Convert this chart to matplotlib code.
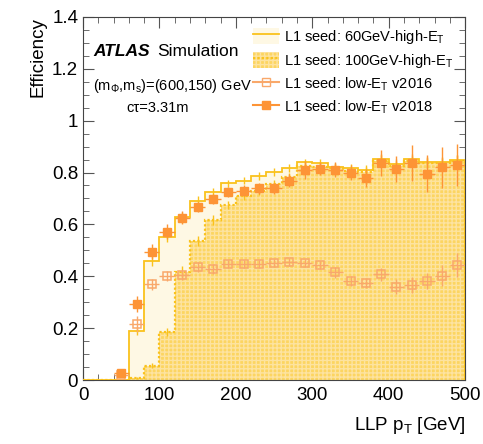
import matplotlib
matplotlib.use("Agg")
import matplotlib.pyplot as plt
import numpy as np
from matplotlib.patches import Patch
from matplotlib.lines import Line2D

plt.rcParams['font.family'] = ['Liberation Sans', 'DejaVu Sans']
plt.rcParams['mathtext.fontset'] = 'custom'
plt.rcParams['mathtext.rm'] = 'Liberation Sans'
plt.rcParams['mathtext.it'] = 'Liberation Sans:italic'

# binning: 25 bins of 20 GeV
edges = np.arange(0, 520, 20)
centers = edges[:-1] + 10

# L1 seed: 60GeV-high-ET (solid histogram)
eff_60 = [0.0, 0.0, 0.0, 0.189, 0.460, 0.553, 0.627, 0.692, 0.726, 0.758,
          0.769, 0.788, 0.801, 0.818, 0.839, 0.836, 0.823, 0.816, 0.810, 0.852,
          0.833, 0.852, 0.839, 0.839, 0.848]
err_60 = [0.0, 0.0, 0.0, 0.015, 0.02, 0.02, 0.02, 0.018, 0.015, 0.015,
          0.015, 0.015, 0.015, 0.015, 0.015, 0.015, 0.015, 0.015, 0.02, 0.02,
          0.02, 0.02, 0.02, 0.02, 0.02]

# L1 seed: 100GeV-high-ET (dotted histogram)
eff_100 = [0.0, 0.0, 0.0, 0.008, 0.055, 0.184, 0.418, 0.536, 0.617, 0.674,
           0.711, 0.730, 0.755, 0.782, 0.825, 0.822, 0.816, 0.807, 0.801, 0.846,
           0.825, 0.843, 0.836, 0.836, 0.846]
err_100 = [0.0, 0.0, 0.0, 0.005, 0.01, 0.015, 0.02, 0.02, 0.018, 0.015,
           0.015, 0.015, 0.015, 0.015, 0.015, 0.015, 0.015, 0.015, 0.02, 0.02,
           0.02, 0.02, 0.02, 0.02, 0.02]

# L1 seed: low-ET v2016 (open squares)
eff_v2016 = [np.nan, np.nan, 0.02, 0.216, 0.369, 0.401, 0.405, 0.435, 0.427, 0.446,
             0.446, 0.446, 0.450, 0.454, 0.450, 0.443, 0.415, 0.382, 0.373, 0.408,
             0.360, 0.366, 0.382, 0.402, 0.443]
err_v2016 = [np.nan, np.nan, 0.01, 0.03, 0.02, 0.02, 0.02, 0.02, 0.02, 0.015,
             0.015, 0.015, 0.015, 0.015, 0.015, 0.015, 0.02, 0.02, 0.02, 0.025,
             0.03, 0.03, 0.03, 0.04, 0.045]

# L1 seed: low-ET v2018 (filled squares)
eff_v2018 = [np.nan, np.nan, 0.026, 0.293, 0.495, 0.572, 0.626, 0.668, 0.697, 0.724,
             0.730, 0.739, 0.739, 0.769, 0.810, 0.814, 0.811, 0.800, 0.780, 0.836,
             0.814, 0.836, 0.796, 0.820, 0.829]
err_v2018 = [np.nan, np.nan, 0.015, 0.03, 0.03, 0.03, 0.025, 0.02, 0.02, 0.02,
             0.02, 0.02, 0.02, 0.025, 0.035, 0.025, 0.03, 0.03, 0.035, 0.05,
             0.05, 0.07, 0.07, 0.08, 0.08]

gold = '#fac21c'
cream = '#fef8e4'
yellow = '#fcd561'
orange = '#fd9436'
light_orange = '#f9a86a'

fig = plt.figure(figsize=(4.83, 4.44), dpi=100)
ax = fig.add_axes([0.172, 0.144, 0.791, 0.818])

# 60 GeV histogram: light fill with solid line
ax.stairs(eff_60, edges, fill=True, color=cream, zorder=1)
ax.stairs(eff_60, edges, color=gold, lw=1.3, zorder=4)
ax.errorbar(centers, eff_60, yerr=err_60, fmt='none', ecolor=gold, elinewidth=1, zorder=4)

# 100 GeV histogram: dense yellow with grid pattern and dotted line
ax.stairs(eff_100, edges, fill=True, facecolor=yellow, edgecolor='#fde3a0',
          hatch='++++', lw=0, zorder=2)
ax.stairs(eff_100, edges, color=gold, lw=1.6, ls=(0, (1, 1)), zorder=3)
ax.errorbar(centers, eff_100, yerr=err_100, fmt='none', ecolor=gold, elinewidth=1, zorder=3)

ax.errorbar(centers, eff_v2016, xerr=10, yerr=err_v2016, fmt='s', ms=6,
            mfc='none', mec=light_orange, mew=1.1, ecolor=light_orange, elinewidth=1, zorder=5)
ax.errorbar(centers, eff_v2018, xerr=10, yerr=err_v2018, fmt='s', ms=6,
            mfc=orange, mec=orange, ecolor=orange, elinewidth=1, zorder=6)

ax.set_xlim(0, 500)
ax.set_ylim(0, 1.4)
ax.set_xticks(np.arange(0, 501, 100))
ax.set_xticks(np.arange(0, 501, 20), minor=True)
ax.set_yticks([0, 0.2, 0.4, 0.6, 0.8, 1.0, 1.2, 1.4])
ax.set_yticklabels(['0', '0.2', '0.4', '0.6', '0.8', '1', '1.2', '1.4'])
ax.set_yticks(np.arange(0, 1.41, 0.05), minor=True)
ax.tick_params(which='both', direction='in', top=True, right=True, labelsize=13.5, color='#555555')
ax.tick_params(which='major', length=8)
ax.tick_params(which='minor', length=4)
ax.tick_params(axis='x', pad=5)
for s in ax.spines.values():
    s.set_color('#444444')

ax.set_xlabel(r'LLP p$_\mathregular{T}$ [GeV]', fontsize=13.5, loc='right', labelpad=8)
ax.set_ylabel('Efficiency', fontsize=13.5, loc='top')

ax.text(0.026, 0.905, 'ATLAS', transform=ax.transAxes, fontsize=12.5,
        fontweight='bold', fontstyle='italic', va='center')
ax.text(0.195, 0.905, 'Simulation', transform=ax.transAxes, fontsize=12.5, va='center')
ax.text(0.026, 0.81, r'(m$_\Phi$,m$_\mathregular{s}$)=(600,150) GeV', transform=ax.transAxes,
        fontsize=10.5, va='center')
ax.text(0.196, 0.75, 'c\u03c4=3.31m', transform=ax.transAxes, fontsize=10.5,
        va='center', ha='center')

h60 = (Patch(facecolor=cream, lw=0), Line2D([], [], color=gold, lw=1.3))
h100 = (Patch(facecolor=yellow, edgecolor='#fde3a0', hatch='++++', lw=0),
        Line2D([], [], color=gold, lw=1.6, ls=(0, (1, 1))))
h16 = Line2D([], [], color=light_orange, marker='s', mfc='none', mec=light_orange, ms=6)
h18 = Line2D([], [], color=orange, marker='s', mfc=orange, mec=orange, ms=6)
ax.legend([h60, h100, h16, h18],
          [r'L1 seed: 60GeV-high-E$_\mathregular{T}$', r'L1 seed: 100GeV-high-E$_\mathregular{T}$',
           r'L1 seed: low-E$_\mathregular{T}$ v2016', r'L1 seed: low-E$_\mathregular{T}$ v2018'],
          loc='upper left', bbox_to_anchor=(0.445, 0.97), frameon=False, fontsize=10.5,
          handlelength=1.75, handleheight=1.3, labelspacing=0.4, handletextpad=0.4,
          borderpad=0, borderaxespad=0)

fig.savefig('out.png', dpi=100)
